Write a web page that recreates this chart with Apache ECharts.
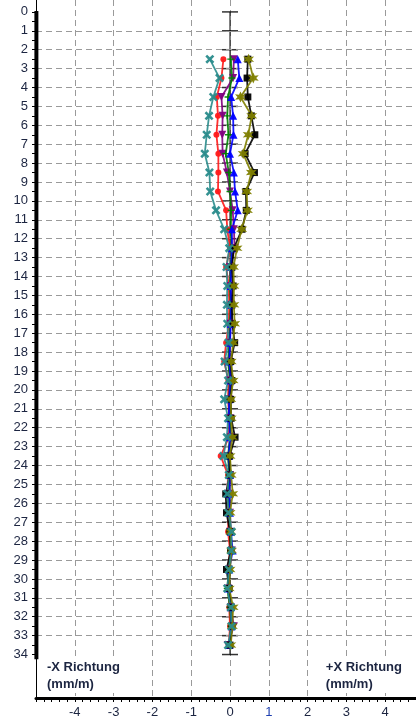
<!DOCTYPE html>
<html><head><meta charset="utf-8">
<script src="https://cdn.jsdelivr.net/npm/echarts@6/dist/echarts.min.js"></script>
<style>html,body{margin:0;padding:0;background:#fff}#c{width:416px;height:724px}</style>
</head><body><div id="c"></div>
<script>
// Depth stations (m)
const depths = [2.5,3.5,4.5,5.5,6.5,7.5,8.5,9.5,10.5,11.5,12.5,13.5,14.5,15.5,16.5,17.5,18.5,19.5,20.5,21.5,22.5,23.5,24.5,25.5,26.5,27.5,28.5,29.5,30.5,31.5,32.5,33.5];
// Deviation series (mm/m)
const tealVals   = [-0.52,-0.27,-0.43,-0.54,-0.60,-0.65,-0.53,-0.51,-0.36,-0.15,-0.02,-0.09,-0.07,-0.08,-0.07,-0.04,-0.14,-0.05,-0.15,-0.05,-0.08,-0.17,-0.03,-0.07,-0.04,0.04,0.03,-0.03,-0.07,0.02,0.04,-0.05];
const redVals    = [-0.17,-0.22,-0.34,-0.31,-0.35,-0.30,-0.30,-0.31,-0.10,-0.07,0.00,-0.10,-0.03,-0.02,-0.03,-0.10,-0.15,-0.04,-0.05,-0.02,-0.03,-0.24,-0.05,-0.07,-0.04,-0.05,0.00,-0.05,-0.04,-0.02,0.00,-0.03];
const purpleVals = [0.10,0.08,-0.22,-0.19,-0.20,-0.19,-0.08,0.00,0.07,0.10,0.12,0.00,0.02,0.03,0.01,0.00,-0.03,0.00,-0.03,0.00,0.02,-0.05,0.00,-0.03,0.00,0.00,0.05,-0.03,-0.05,0.02,0.10,-0.06];
const greenVals  = [0.02,0.05,-0.05,-0.07,-0.04,-0.11,-0.03,0.00,0.03,0.02,0.05,0.02,0.00,0.02,0.00,-0.02,-0.05,0.00,-0.02,0.00,0.00,-0.05,-0.02,-0.04,-0.02,0.00,0.02,-0.03,-0.07,0.00,0.03,-0.02];
const blueVals   = [0.20,0.24,0.03,0.08,0.09,0.00,0.10,0.13,0.20,0.05,0.05,0.03,0.02,0.03,0.02,0.00,-0.02,0.02,-0.02,-0.03,0.00,-0.03,0.00,-0.02,0.00,0.02,0.07,-0.02,-0.04,0.02,0.04,-0.02];
const blackVals  = [0.46,0.44,0.46,0.55,0.64,0.39,0.63,0.41,0.42,0.31,0.10,0.05,0.08,0.05,0.06,0.12,0.02,0.05,0.02,0.03,0.13,-0.01,0.00,-0.11,-0.09,0.00,0.02,-0.09,-0.02,0.03,0.05,0.00];
const oliveVals  = [0.48,0.60,0.27,0.56,0.47,0.34,0.55,0.43,0.45,0.30,0.18,0.09,0.10,0.10,0.12,0.08,0.03,0.08,0.02,0.03,0.06,0.00,0.03,0.07,0.00,0.02,0.04,0.00,-0.02,0.08,0.06,0.02];
// Tick labels
const yTickLabels = [0,1,2,3,4,5,6,7,8,9,10,11,12,13,14,15,16,17,18,19,20,21,22,23,24,25,26,27,28,29,30,31,32,33,34];
const yGridLines = [1,2,3,4,5,6,7,8,9,10,11,12,13,14,15,16,17,18,19,20,21,22,23,24,25,26,27,28,29,30,31,32,33];
const xTickLabels = [-4,-3,-2,-1,0,1,2,3,4];

const LABEL = '#1c2541';
const FONT = '"Liberation Sans", Arial, sans-serif';
const SYM_X = 'path://M0,2 L2,0 L5,3 L8,0 L10,2 L7,5 L10,8 L8,10 L5,7 L2,10 L0,8 L3,5 Z';
const SYM_PLUS = 'path://M4,0 L6,0 L6,4 L10,4 L10,6 L6,6 L6,10 L4,10 L4,6 L0,6 L0,4 L4,4 Z';
const SYM_STAR = 'path://M5,0 L6.2,3 L9.3,2.5 L7.3,5 L9.3,7.5 L6.2,7 L5,10 L3.8,7 L0.7,7.5 L2.7,5 L0.7,2.5 L3.8,3 Z';

function mk(vals, color, symbol, size, rotate, z) {
  return {
    type: 'line', data: vals.map((v, i) => [v, depths[i]]),
    symbol: symbol, symbolSize: size, symbolRotate: rotate || 0, showAllSymbol: true,
    lineStyle: { color: color, width: 1.8, opacity: 0.9 },
    itemStyle: { color: color, opacity: 0.95 },
    z: z || 5, silent: true, animation: false
  };
}

const chart = echarts.init(document.getElementById('c'), null, { renderer: 'canvas' });
const halfTicks = [];
for (let v = 0; v <= 34; v += 0.5) halfTicks.push(v);

chart.setOption({
  animation: false,
  grid: { left: 36, width: 388, top: 0, height: 698, containLabel: false, outerBoundsMode: 'none' },
  xAxis: {
    type: 'value', min: -5, max: 5, interval: 1,
    axisLine: { show: true, onZero: false, lineStyle: { color: '#000', width: 3 } },
    axisTick: { show: true, length: 4, lineStyle: { color: '#000', width: 1 } },
    minorTick: { show: true, splitNumber: 5, length: 4, lineStyle: { color: '#000', width: 1 } },
    splitLine: { show: true, lineStyle: { color: '#9a9a9a', type: [6, 4], width: 1 } },
    axisLabel: {
      margin: 8, fontSize: 13, fontFamily: FONT, color: LABEL,
      formatter: function (v) {
        if (xTickLabels.indexOf(v) < 0) return '';
        return v === 1 ? '{b|1}' : String(v);
      },
      rich: { b: { color: '#1f3fb0', fontSize: 13, fontFamily: FONT } }
    }
  },
  yAxis: {
    type: 'value', inverse: true, min: -0.63, max: 36.3,
    axisLine: { show: true, onZero: false, lineStyle: { color: '#000', width: 1 } },
    axisTick: { show: true, length: 4, customValues: halfTicks, lineStyle: { color: '#000', width: 1 } },
    splitLine: { show: false },
    axisLabel: {
      margin: 8, fontSize: 13, fontFamily: FONT, color: LABEL,
      customValues: yTickLabels,
      formatter: function (v) { return yTickLabels.indexOf(v) >= 0 ? String(v) : ''; }
    }
  },
  graphic: [
    { type: 'text', left: 46, top: 659, z: 100,
      style: { text: '-X Richtung\n(mm/m)', font: 'bold 13px ' + FONT, fill: LABEL, lineHeight: 17, backgroundColor: '#fff', padding: [0, 1, 0, 1] } },
    { type: 'text', right: 13, top: 659, z: 100,
      style: { text: '+X Richtung\n(mm/m)', font: 'bold 13px ' + FONT, fill: LABEL, lineHeight: 17, align: 'right', backgroundColor: '#fff', padding: [0, 1, 0, 1] } }
  ],
  series: [
    { // horizontal dashed grid
      type: 'line', data: [], silent: true, z: 1,
      markLine: { silent: true, symbol: 'none', label: { show: false },
        lineStyle: { color: '#9a9a9a', type: [6, 4], width: 1 },
        data: yGridLines.map(v => ({ yAxis: v })) }
    },
    { // thick depth axis segment
      type: 'line', data: [[-4.99, -0.05], [-4.99, 34.25]], symbol: 'none', clip: false, silent: true, z: 6,
      lineStyle: { color: '#000', width: 4 }
    },
    { // reference line at 0
      type: 'line', data: [[0, 0], [0, 34]], symbol: 'none', silent: true, z: 2,
      lineStyle: { color: '#000', width: 1 }
    },
    { // reference cross marks
      type: 'scatter', data: yTickLabels.map(v => [0, v]), symbol: 'rect', symbolSize: [16, 1.5], silent: true, z: 2,
      itemStyle: { color: '#000' }
    },
    mk(redVals, '#ff1a1a', 'circle', 6, 0, 5),
    mk(purpleVals, '#800080', 'triangle', 8, 180, 5),
    mk(greenVals, '#008000', SYM_PLUS, 7, 0, 5),
    mk(blueVals, '#0000ff', 'triangle', 8, 0, 5),
    mk(blackVals, '#000000', 'rect', 7, 0, 5),
    mk(oliveVals, '#808000', SYM_STAR, 11, 0, 5),
    mk(tealVals, '#2a8c8c', SYM_X, 9, 0, 5)
  ]
});
</script>
</body></html>
